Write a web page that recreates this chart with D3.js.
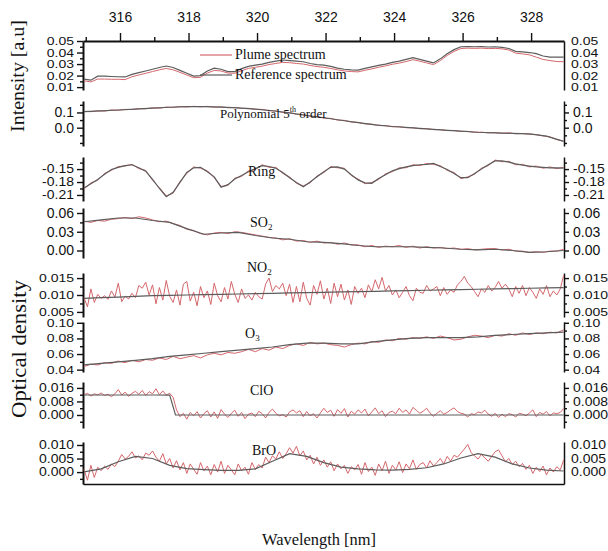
<!DOCTYPE html>
<html>
<head>
<meta charset="utf-8">
<script src="https://cdn.jsdelivr.net/npm/d3@7"></script>
<style>
  body { margin: 0; background: #fff; }
  svg { display: block; font-family: "Liberation Sans", Arial, sans-serif; }
  .tick text { font-size: 14px; fill: #111; }
  .tick line { stroke: #111; stroke-width: 1.4; }
  .domain { stroke: #111; }
  .serif { font-family: "Liberation Serif", "Times New Roman", serif; fill: #111; }
</style>
</head>
<body>
<script>
// sampling grids in nm
const wlFine = d3.range(141).map(i => 314.95 + i * 0.1);
const wlCoarse = d3.range(71).map(i => 314.95 + i * 0.2);
const wlFit = d3.range(29).map(i => 314.95 + i * 0.5);

const topTicks = [316, 318, 320, 322, 324, 326, 328];
const topMinor = [315, 317, 319, 321, 323, 325, 327];

// intensity panel
const referenceSpectrum = [
  0.0170, 0.0160, 0.0195, 0.0195, 0.0192, 0.0190, 0.0188, 0.0210, 0.0225, 0.0240,
  0.0255, 0.0270, 0.0283, 0.0270, 0.0245, 0.0220, 0.0195, 0.0200, 0.0240, 0.0265,
  0.0255, 0.0235, 0.0235, 0.0260, 0.0280, 0.0290, 0.0300, 0.0315, 0.0325, 0.0335,
  0.0330, 0.0325, 0.0320, 0.0305, 0.0295, 0.0290, 0.0280, 0.0265, 0.0255, 0.0250,
  0.0248, 0.0262, 0.0275, 0.0288, 0.0300, 0.0315, 0.0325, 0.0340, 0.0355, 0.0340,
  0.0325, 0.0310, 0.0345, 0.0390, 0.0425, 0.0450, 0.0452, 0.0450, 0.0452, 0.0448,
  0.0450, 0.0445, 0.0435, 0.0410, 0.0405, 0.0400, 0.0390, 0.0370, 0.0360, 0.0360,
  0.0360
];
const plumeSpectrum = [
  0.0155, 0.0145, 0.0170, 0.0170, 0.0168, 0.0168, 0.0165, 0.0190, 0.0205, 0.0220,
  0.0235, 0.0250, 0.0262, 0.0250, 0.0228, 0.0205, 0.0182, 0.0185, 0.0222, 0.0245,
  0.0240, 0.0222, 0.0220, 0.0242, 0.0262, 0.0272, 0.0282, 0.0296, 0.0305, 0.0315,
  0.0312, 0.0305, 0.0300, 0.0288, 0.0278, 0.0272, 0.0262, 0.0250, 0.0240, 0.0235,
  0.0232, 0.0246, 0.0258, 0.0272, 0.0284, 0.0298, 0.0308, 0.0322, 0.0338, 0.0325,
  0.0310, 0.0295, 0.0330, 0.0375, 0.0410, 0.0435, 0.0438, 0.0436, 0.0438, 0.0434,
  0.0436, 0.0432, 0.0422, 0.0395, 0.0388, 0.0380, 0.0360, 0.0340, 0.0330, 0.0322,
  0.0320
];
const intTicks = [0.05, 0.04, 0.03, 0.02, 0.01];
const intLabels = ['0.05', '0.04', '0.03', '0.02', '0.01'];
const intMinor = [0.045, 0.035, 0.025, 0.015];

// polynomial 5th order
const polyFit = [
  0.105, 0.110, 0.116, 0.122, 0.128, 0.134, 0.138, 0.138, 0.135, 0.130,
  0.122, 0.111, 0.097, 0.080, 0.065, 0.049, 0.033, 0.018, 0.008, 0.000,
  -0.008, -0.016, -0.023, -0.030, -0.034, -0.037, -0.041, -0.055, -0.090
];
const polyMeasured = [
  0.107, 0.105, 0.111, 0.109, 0.116, 0.114, 0.120, 0.119, 0.125, 0.124,
  0.130, 0.128, 0.135, 0.133, 0.139, 0.136, 0.140, 0.137, 0.140, 0.135,
  0.137, 0.131, 0.133, 0.126, 0.127, 0.120, 0.120, 0.111, 0.110, 0.100,
  0.099, 0.088, 0.085, 0.075, 0.073, 0.063, 0.061, 0.050, 0.048, 0.037,
  0.035, 0.025, 0.023, 0.014, 0.014, 0.006, 0.007, 0.000, 0.000, -0.007,
  -0.006, -0.013, -0.012, -0.019, -0.018, -0.025, -0.024, -0.031, -0.029, -0.034,
  -0.032, -0.037, -0.034, -0.040, -0.038, -0.043, -0.045, -0.054, -0.060, -0.078,
  -0.088
];
const polyTicks = [0.1, 0.0];
const polyLabels = ['0.1', '0.0'];
const polyMinor = [0.15, 0.05, -0.05, -0.1];

// ring
const ringFit = [
  -0.194, -0.184, -0.174, -0.162, -0.151, -0.146, -0.142, -0.140, -0.147, -0.155,
  -0.174, -0.195, -0.214, -0.204, -0.181, -0.158, -0.147, -0.146, -0.156, -0.168,
  -0.192, -0.186, -0.173, -0.165, -0.156, -0.149, -0.142, -0.144, -0.148, -0.158,
  -0.170, -0.181, -0.191, -0.180, -0.168, -0.156, -0.146, -0.145, -0.150, -0.163,
  -0.175, -0.182, -0.183, -0.172, -0.163, -0.154, -0.149, -0.145, -0.142, -0.140,
  -0.139, -0.137, -0.144, -0.151, -0.160, -0.170, -0.170, -0.160, -0.150, -0.140,
  -0.131, -0.131, -0.134, -0.138, -0.141, -0.143, -0.145, -0.146, -0.147, -0.147,
  -0.148
];
const ringMeasured = [
  -0.196, -0.182, -0.176, -0.160, -0.153, -0.144, -0.143, -0.139, -0.149, -0.153,
  -0.176, -0.193, -0.212, -0.206, -0.179, -0.160, -0.145, -0.148, -0.154, -0.170,
  -0.190, -0.188, -0.171, -0.167, -0.154, -0.151, -0.140, -0.146, -0.146, -0.160,
  -0.168, -0.183, -0.189, -0.182, -0.166, -0.158, -0.144, -0.147, -0.148, -0.165,
  -0.173, -0.184, -0.181, -0.174, -0.161, -0.156, -0.147, -0.147, -0.140, -0.142,
  -0.137, -0.139, -0.142, -0.153, -0.158, -0.172, -0.168, -0.162, -0.148, -0.142,
  -0.129, -0.133, -0.132, -0.140, -0.139, -0.145, -0.143, -0.148, -0.145, -0.149,
  -0.146
];
const ringTicks = [-0.15, -0.18, -0.21];
const ringLabels = ['-0.15', '-0.18', '-0.21'];
const ringMinor = [-0.135, -0.165, -0.195];

// SO2
const so2Fit = [
  0.046, 0.049, 0.052, 0.052, 0.048, 0.045, 0.035, 0.026, 0.028, 0.029,
  0.024, 0.020, 0.018, 0.014, 0.013, 0.011, 0.008, 0.006, 0.006, 0.006,
  0.005, 0.004, 0.002, 0.001, 0.002, 0.000, -0.003, -0.002, 0.000
];
const so2Measured = [
  0.047, 0.045, 0.048, 0.047, 0.050, 0.051, 0.053, 0.051, 0.054, 0.052,
  0.049, 0.046, 0.047, 0.043, 0.040, 0.034, 0.032, 0.027, 0.025, 0.028,
  0.029, 0.027, 0.030, 0.029, 0.027, 0.025, 0.023, 0.021, 0.020, 0.017,
  0.019, 0.015, 0.016, 0.013, 0.015, 0.012, 0.013, 0.010, 0.012, 0.009,
  0.009, 0.006, 0.008, 0.005, 0.007, 0.006, 0.008, 0.005, 0.007, 0.004,
  0.006, 0.004, 0.005, 0.003, 0.004, 0.002, 0.003, 0.001, 0.002, 0.003,
  0.003, 0.001, 0.002, -0.001, -0.001, -0.003, -0.002, -0.003, -0.001, -0.001,
  0.002
];
const so2Ticks = [0.06, 0.03, 0.0];
const so2Labels = ['0.06', '0.03', '0.00'];
const so2Minor = [0.045, 0.015];

// NO2
const no2Fit = [
  0.0090, 0.0092, 0.0094, 0.0096, 0.0098, 0.0099, 0.0100, 0.0101, 0.0102, 0.0103,
  0.0104, 0.0105, 0.0106, 0.0107, 0.0108, 0.0109, 0.0110, 0.0111, 0.0112, 0.0113,
  0.0114, 0.0115, 0.0116, 0.0117, 0.0118, 0.0119, 0.0120, 0.0121, 0.0122
];
const no2Measured = [
  0.0092, 0.0065, 0.0118, 0.0078, 0.0102, 0.0090, 0.0098, 0.0087, 0.0112, 0.0094,
  0.0135, 0.0080, 0.0097, 0.0088, 0.0105, 0.0092, 0.0128, 0.0120, 0.0138, 0.0100,
  0.0130, 0.0074, 0.0122, 0.0085, 0.0143, 0.0096, 0.0078, 0.0115, 0.0070, 0.0132,
  0.0140, 0.0082, 0.0108, 0.0068, 0.0125, 0.0092, 0.0112, 0.0072, 0.0135, 0.0098,
  0.0080, 0.0122, 0.0088, 0.0140, 0.0102, 0.0078, 0.0118, 0.0090, 0.0100, 0.0085,
  0.0108, 0.0095, 0.0088, 0.0132, 0.0150, 0.0110, 0.0128, 0.0118, 0.0135, 0.0098,
  0.0132, 0.0078, 0.0125, 0.0080, 0.0138, 0.0090, 0.0070, 0.0128, 0.0102, 0.0142,
  0.0088, 0.0120, 0.0075, 0.0135, 0.0095, 0.0132, 0.0085, 0.0115, 0.0072, 0.0125,
  0.0105, 0.0120, 0.0092, 0.0130, 0.0110, 0.0145, 0.0118, 0.0152, 0.0112, 0.0128,
  0.0100, 0.0115, 0.0092, 0.0108, 0.0125, 0.0098, 0.0083, 0.0120, 0.0108, 0.0105,
  0.0128, 0.0112, 0.0118, 0.0125, 0.0098, 0.0122, 0.0102, 0.0115, 0.0108, 0.0130,
  0.0140, 0.0155, 0.0135, 0.0125, 0.0110, 0.0095, 0.0118, 0.0108, 0.0128, 0.0112,
  0.0122, 0.0140, 0.0120, 0.0132, 0.0118, 0.0095, 0.0125, 0.0105, 0.0128, 0.0098,
  0.0122, 0.0108, 0.0090, 0.0118, 0.0102, 0.0128, 0.0095, 0.0112, 0.0100, 0.0118,
  0.0158
];
const no2Ticks = [0.015, 0.010, 0.005];
const no2Labels = ['0.015', '0.010', '0.005'];
const no2Minor = [0.0125, 0.0075];

// O3
const o3Fit = [
  0.046, 0.048, 0.050, 0.052, 0.054, 0.057, 0.059, 0.061, 0.063, 0.065,
  0.067, 0.069, 0.072, 0.074, 0.074, 0.073, 0.073, 0.076, 0.078, 0.080,
  0.081, 0.081, 0.081, 0.082, 0.084, 0.085, 0.086, 0.087, 0.088
];
const o3Measured = [
  0.044, 0.047, 0.046, 0.049, 0.048, 0.051, 0.049, 0.052, 0.050, 0.053,
  0.052, 0.055, 0.053, 0.057, 0.054, 0.056, 0.058, 0.055, 0.059, 0.061,
  0.059, 0.062, 0.061, 0.063, 0.066, 0.063, 0.067, 0.065, 0.069, 0.067,
  0.071, 0.073, 0.071, 0.075, 0.073, 0.074, 0.072, 0.071, 0.069, 0.072,
  0.074, 0.073, 0.076, 0.075, 0.078, 0.077, 0.080, 0.079, 0.081, 0.080,
  0.082, 0.080, 0.083, 0.081, 0.078, 0.079, 0.082, 0.084, 0.083, 0.081,
  0.084, 0.083, 0.086, 0.084, 0.087, 0.085, 0.087, 0.086, 0.088, 0.087,
  0.091
];
const o3Ticks = [0.10, 0.08, 0.06, 0.04];
const o3Labels = ['0.10', '0.08', '0.06', '0.04'];
const o3Minor = [0.09, 0.07, 0.05];

// ClO
const cloFitWl = [314.95, 316.0, 317.0, 317.45, 317.62, 318.5, 320.0, 322.0, 324.0, 326.0, 328.95];
const cloFit = [0.0118, 0.0118, 0.0118, 0.0117, 0.0, 0.0, 0.0, 0.0, 0.0, 0.0, 0.0];
const cloMeasured = [
  0.0120, 0.0128, 0.0112, 0.0125, 0.0118, 0.0130, 0.0115, 0.0122, 0.0108, 0.0125,
  0.0150, 0.0118, 0.0135, 0.0110, 0.0128, 0.0140, 0.0122, 0.0145, 0.0115, 0.0138,
  0.0125, 0.0155, 0.0120, 0.0142, 0.0118, 0.0128, 0.0105, 0.0030, -0.0010, 0.0010,
  -0.0025, 0.0015, -0.0005, 0.0020, -0.0018, 0.0008, 0.0025, -0.0012, 0.0018, -0.0020,
  0.0032, 0.0005, -0.0015, 0.0010, 0.0028, -0.0008, 0.0015, -0.0022, 0.0005, 0.0012,
  -0.0010, 0.0022, 0.0008, -0.0018, 0.0015, 0.0035, 0.0010, -0.0005, 0.0002, -0.0012,
  0.0018, 0.0030, 0.0012, 0.0025, -0.0010, 0.0020, -0.0005, 0.0008, -0.0018, 0.0012,
  0.0040, 0.0015, 0.0028, -0.0008, 0.0032, 0.0010, 0.0038, -0.0012, 0.0022, 0.0005,
  0.0030, 0.0012, 0.0035, -0.0005, 0.0018, 0.0042, 0.0008, 0.0025, -0.0010, 0.0015,
  0.0022, 0.0008, 0.0040, 0.0015, 0.0030, 0.0005, 0.0045, 0.0028, 0.0010, 0.0022,
  0.0040, 0.0012, -0.0008, 0.0010, 0.0025, 0.0005, 0.0015, 0.0030, 0.0042, 0.0020,
  0.0010, 0.0005, -0.0012, 0.0008, 0.0002, 0.0018, 0.0012, 0.0028, 0.0005, -0.0008,
  0.0010, -0.0015, 0.0005, -0.0010, 0.0008, 0.0002, -0.0012, 0.0010, 0.0005, -0.0005,
  0.0012, 0.0030, -0.0010, 0.0015, 0.0005, 0.0020, -0.0005, 0.0012, 0.0008, 0.0015,
  0.0038
];
const cloTicks = [0.016, 0.008, 0.0];
const cloLabels = ['0.016', '0.008', '0.000'];
const cloMinor = [0.012, 0.004, -0.004];

// BrO
const broFit = [
  0.0001, 0.0012, 0.0038, 0.0058, 0.0050, 0.0025, 0.0013, 0.0009, 0.0006, 0.0006,
  0.0012, 0.0040, 0.0068, 0.0058, 0.0035, 0.0018, 0.0012, 0.0008, 0.0007, 0.0010,
  0.0016, 0.0030, 0.0052, 0.0068, 0.0055, 0.0030, 0.0015, 0.0007, 0.0004
];
const broMeasured = [
  0.0010, -0.0030, 0.0025, -0.0020, 0.0018, 0.0005, 0.0022, 0.0010, 0.0030, 0.0020,
  0.0040, 0.0065, 0.0048, 0.0058, 0.0075, 0.0052, 0.0060, 0.0045, 0.0070, 0.0062,
  0.0078, 0.0055, 0.0040, 0.0068, 0.0030, 0.0050, 0.0015, 0.0042, 0.0008, 0.0035,
  -0.0005, 0.0030, 0.0010, -0.0008, 0.0035, 0.0005, 0.0022, -0.0010, 0.0028, 0.0000,
  0.0040, -0.0005, 0.0025, 0.0008, -0.0010, 0.0030, 0.0005, 0.0018, -0.0008, 0.0035,
  0.0010, 0.0028, 0.0015, 0.0055, 0.0035, 0.0060, 0.0048, 0.0075, 0.0050, 0.0068,
  0.0090, 0.0070, 0.0095, 0.0060, 0.0078, 0.0045, 0.0062, 0.0030, 0.0055, 0.0025,
  0.0045, 0.0018, 0.0038, 0.0005, 0.0030, 0.0012, 0.0025, -0.0005, 0.0020, 0.0008,
  0.0028, -0.0008, 0.0035, 0.0002, 0.0018, -0.0012, 0.0030, 0.0005, 0.0040, -0.0005,
  0.0025, 0.0008, 0.0038, -0.0002, 0.0030, 0.0012, 0.0045, 0.0010, 0.0028, 0.0035,
  0.0015, 0.0042, 0.0022, 0.0035, 0.0050, 0.0030, 0.0058, 0.0040, 0.0062, 0.0055,
  0.0070, 0.0085, 0.0102, 0.0072, 0.0060, 0.0048, 0.0065, 0.0052, 0.0040, 0.0058,
  0.0075, 0.0082, 0.0060, 0.0038, 0.0050, 0.0028, 0.0040, 0.0020, 0.0032, 0.0010,
  0.0025, -0.0005, 0.0018, 0.0002, 0.0022, -0.0010, 0.0015, 0.0000, 0.0020, 0.0008,
  0.0045
];
const broTicks = [0.010, 0.005, 0.0];
const broLabels = ['0.010', '0.005', '0.000'];
const broMinor = [0.0075, 0.0025, -0.0025];

const red = '#d4676c';
const dark = '#5c5c5c';

const width = 608, height = 551;
const left = 83, right = 564;

const svg = d3.select('body')
  .append('svg')
  .attr('width', width)
  .attr('height', height);

const x = d3.scaleLinear().domain([314.92, 328.96]).range([left, right]);

// squash: vertical squeeze of the crowded tick labels, as in the original figure
const panels = [
  { top: 41, bottom: 90, domain: [0.0075, 0.05], ticks: intTicks, labels: intLabels, minor: intMinor, rightTickSize: 0, squash: 0.8,
    lines: [[wlCoarse, referenceSpectrum, dark], [wlCoarse, plumeSpectrum, red]] },
  { top: 101, bottom: 146, domain: [-0.12, 0.175], ticks: polyTicks, labels: polyLabels, minor: polyMinor, rightTickSize: 5, squash: 1,
    lines: [[wlCoarse, polyMeasured, red], [wlFit, polyFit, dark]] },
  { top: 157, bottom: 201, domain: [-0.224, -0.122], ticks: ringTicks, labels: ringLabels, minor: ringMinor, rightTickSize: 5, squash: 0.86,
    lines: [[wlCoarse, ringMeasured, red], [wlCoarse, ringFit, dark]] },
  { top: 208, bottom: 258, domain: [-0.012, 0.068], ticks: so2Ticks, labels: so2Labels, minor: so2Minor, rightTickSize: 5, squash: 1,
    lines: [[wlCoarse, so2Measured, red], [wlFit, so2Fit, dark]] },
  { top: 273, bottom: 317, domain: [0.0035, 0.0165], ticks: no2Ticks, labels: no2Labels, minor: no2Minor, rightTickSize: 5, squash: 0.8,
    lines: [[wlFine, no2Measured, red], [wlFit, no2Fit, dark]] },
  { top: 322, bottom: 372, domain: [0.037, 0.101], ticks: o3Ticks, labels: o3Labels, minor: o3Minor, rightTickSize: 5, squash: 0.78,
    lines: [[wlCoarse, o3Measured, red], [wlFit, o3Fit, dark]] },
  { top: 382, bottom: 428, domain: [-0.0077, 0.0195], ticks: cloTicks, labels: cloLabels, minor: cloMinor, rightTickSize: 5, squash: 0.86,
    lines: [[wlFine, cloMeasured, red], [cloFitWl, cloFit, dark]] },
  { top: 442, bottom: 484, domain: [-0.0044, 0.0111], ticks: broTicks, labels: broLabels, minor: broMinor, rightTickSize: 0, squash: 0.86,
    lines: [[wlFine, broMeasured, red], [wlFit, broFit, dark]] }
];

panels.forEach(p => {
  const y = d3.scaleLinear().domain(p.domain).range([p.bottom, p.top]);

  svg.append('g')
    .attr('transform', 'translate(' + left + ',0)')
    .call(d3.axisLeft(y).tickValues(p.minor).tickSize(3).tickSizeOuter(0).tickFormat(''))
    .select('.domain').remove();

  const la = svg.append('g')
    .attr('transform', 'translate(' + left + ',0)')
    .call(d3.axisLeft(y).tickValues(p.ticks).tickSize(6).tickPadding(3).tickSizeOuter(0)
      .tickFormat((d, i) => p.labels[i]));
  la.select('.domain').attr('stroke-width', 2);
  la.selectAll('.tick text').attr('transform', 'scale(1,' + p.squash + ')');

  if (p.rightTickSize > 0) {
    svg.append('g')
      .attr('transform', 'translate(' + right + ',0)')
      .call(d3.axisRight(y).tickValues(p.minor).tickSize(3).tickSizeOuter(0).tickFormat(''))
      .select('.domain').remove();
  }
  const ra = svg.append('g')
    .attr('transform', 'translate(' + right + ',0)')
    .call(d3.axisRight(y).tickValues(p.ticks).tickSize(p.rightTickSize)
      .tickPadding(p.rightTickSize ? 4 : 7).tickSizeOuter(0)
      .tickFormat((d, i) => p.labels[i]));
  ra.select('.domain').attr('stroke-width', 1.5);
  ra.selectAll('.tick text').attr('transform', 'scale(1,' + p.squash + ')');

  p.lines.forEach(([wl, vals, color]) => {
    svg.append('path')
      .datum(vals)
      .attr('fill', 'none')
      .attr('stroke', color)
      .attr('stroke-width', color === red ? 1 : 1.2)
      .attr('d', d3.line().x((d, i) => x(wl[i])).y(d => y(d)));
  });
});

// top wavelength axis
svg.append('g')
  .attr('transform', 'translate(0,41)')
  .call(d3.axisTop(x).tickValues(topMinor).tickSize(4).tickSizeOuter(0).tickFormat(''))
  .select('.domain').remove();
const ta = svg.append('g')
  .attr('transform', 'translate(0,41)')
  .call(d3.axisTop(x).tickValues(topTicks).tickSize(8).tickPadding(11).tickSizeOuter(0));
ta.select('.domain').attr('stroke-width', 2);

// bottom frame line
svg.append('g')
  .attr('transform', 'translate(0,484)')
  .call(d3.axisBottom(x).tickValues([]).tickSizeOuter(0))
  .select('.domain').attr('stroke-width', 1.5);

// legend
const legend = [['Plume spectrum', red, 55], ['Reference spectrum', dark, 75]];
legend.forEach(([name, color, ly]) => {
  svg.append('line')
    .attr('x1', 200).attr('x2', 232)
    .attr('y1', ly).attr('y2', ly)
    .attr('stroke', color).attr('stroke-width', 1.2);
  svg.append('text')
    .attr('class', 'serif')
    .attr('x', 235).attr('y', ly + 4)
    .style('font-size', '14px')
    .text(name);
});

// panel annotations
const poly = svg.append('text').attr('class', 'serif')
  .attr('x', 220).attr('y', 118).style('font-size', '13px');
poly.append('tspan').text('Polynomial 5');
poly.append('tspan').attr('dy', -6).style('font-size', '8px').text('th');
poly.append('tspan').attr('dy', 6).text(' order');

function species(label, sub, lx, ly) {
  const t = svg.append('text').attr('class', 'serif')
    .attr('x', lx).attr('y', ly).style('font-size', '14px');
  t.append('tspan').text(label);
  if (sub) t.append('tspan').attr('dy', 3).style('font-size', '9px').text(sub);
}
species('Ring', '', 248, 176);
species('SO', '2', 250, 227);
species('NO', '2', 247, 272);
species('O', '3', 245, 338);
species('ClO', '', 250, 395);
species('BrO', '', 252, 455);

// axis titles
svg.append('text')
  .attr('class', 'serif')
  .attr('transform', 'translate(24,76) rotate(-90)')
  .attr('text-anchor', 'middle')
  .attr('textLength', 112).attr('lengthAdjust', 'spacingAndGlyphs')
  .style('font-size', '19px')
  .text('Intensity [a.u]');

svg.append('text')
  .attr('class', 'serif')
  .attr('transform', 'translate(26,349) rotate(-90)')
  .attr('text-anchor', 'middle')
  .attr('textLength', 138).attr('lengthAdjust', 'spacingAndGlyphs')
  .style('font-size', '20px')
  .text('Optical density');

svg.append('text')
  .attr('class', 'serif')
  .attr('x', 319).attr('y', 545)
  .attr('text-anchor', 'middle')
  .attr('textLength', 114).attr('lengthAdjust', 'spacingAndGlyphs')
  .style('font-size', '17px')
  .text('Wavelength [nm]');
</script>
</body>
</html>
